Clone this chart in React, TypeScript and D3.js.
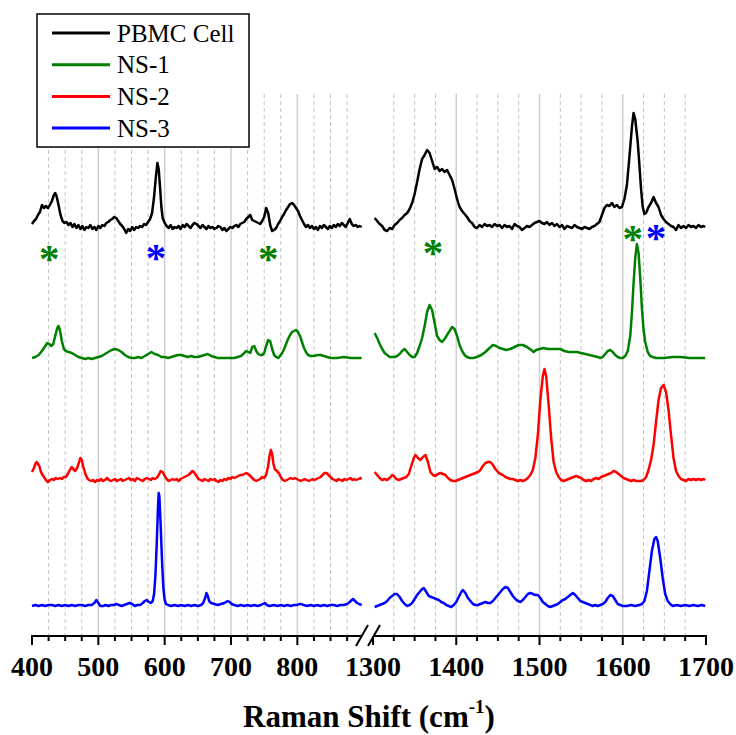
import { useEffect, useRef } from 'react';
import * as d3 from 'd3';

const WIDTH = 736;
const HEIGHT = 735;

// Series order: PBMC Cell, NS-1, NS-2, NS-3
const SERIES_NAMES = ['PBMC Cell', 'NS-1', 'NS-2', 'NS-3'];
const SERIES_COLORS = ['#000000', '#008000', '#ff0000', '#0000ff'];
const SERIES_OFFSETS = [409, 278, 156, 30];

// [Raman shift, intensity (a.u.)], low range 400-900
const pbmcLow: [number, number][] = [
  [400, 3], [403, 6], [406, 8], [409, 12], [412, 15], [415, 22], [418, 19], [421, 21], [424, 19], [427, 22],
  [430, 26], [433, 32], [435, 34], [437, 31], [440, 22], [443, 12], [446, 6], [449, 4], [452, 5], [455, 2],
  [458, 4], [461, 0], [464, 3], [467, -1], [470, 2], [473, -2], [476, 1], [479, -3], [482, 0], [485, -1],
  [488, 2], [491, -2], [494, 0], [497, -3], [500, 1], [503, -1], [506, 2], [509, 1], [512, 4], [515, 5],
  [518, 7], [521, 8], [524, 10], [527, 9], [530, 6], [533, 3], [536, 1], [539, -2], [542, -6], [545, -2],
  [548, -4], [551, 0], [554, -3], [557, 0], [560, -1], [563, 1], [566, 0], [569, 3], [572, 2], [575, 5],
  [578, 8], [581, 14], [584, 30], [587, 52], [589, 64], [591, 58], [593, 40], [595, 20], [597, 9], [600, 4],
  [603, 1], [606, -1], [609, 2], [612, -2], [615, 0], [618, -1], [621, 1], [624, -2], [627, 2], [630, 0],
  [633, 3], [636, 1], [639, -1], [642, 2], [645, 4], [648, 3], [651, 1], [654, -1], [657, 2], [660, 0],
  [663, -2], [666, 1], [669, -1], [672, 0], [675, -2], [678, -1], [681, 1], [684, 0], [687, -3], [690, -1],
  [693, -4], [696, -2], [699, 0], [702, -1], [705, 1], [708, 2], [711, 0], [714, 3], [717, 4], [720, 5],
  [723, 8], [726, 10], [729, 12], [732, 7], [735, 6], [738, 5], [741, 4], [744, 3], [747, 6], [750, 10],
  [753, 19], [756, 14], [759, 2], [762, -4], [765, -3], [768, -1], [771, 3], [774, 6], [777, 10], [780, 13],
  [783, 17], [786, 20], [789, 23], [792, 24], [795, 22], [798, 19], [801, 16], [804, 11], [807, 7], [810, 3],
  [813, 0], [816, 2], [819, -1], [822, 1], [825, -2], [828, 0], [831, -3], [834, 1], [837, -1], [840, 2],
  [843, 0], [846, -2], [849, 1], [852, -1], [855, 2], [858, 0], [861, 3], [864, 1], [867, 4], [870, 2],
  [873, 0], [876, 4], [879, 8], [882, 3], [885, 1], [888, 2], [891, 0], [894, 1], [897, 0],
];

const ns1Low: [number, number][] = [
  [400, 0], [405, 1], [410, 3], [415, 7], [420, 12], [423, 15], [426, 14], [429, 12], [432, 14], [435, 22],
  [438, 30], [440, 32], [442, 28], [445, 17], [448, 9], [451, 7], [455, 6], [460, 5], [465, 3], [470, 1],
  [475, 0], [480, -1], [485, 0], [490, -1], [495, 0], [500, 1], [505, 2], [510, 4], [515, 6], [520, 8],
  [525, 9], [530, 8], [535, 6], [540, 3], [545, 1], [550, 0], [555, 0], [560, 1], [565, 0], [570, 2],
  [575, 4], [580, 6], [585, 4], [590, 3], [595, 1], [600, 1], [605, 0], [610, 1], [615, 2], [620, 3],
  [625, 3], [630, 2], [635, 1], [640, 2], [645, 1], [650, 1], [655, 2], [660, 3], [665, 4], [670, 2],
  [675, 1], [680, 0], [690, 0], [700, 0], [705, 0], [710, 1], [715, 2], [720, 5], [723, 7], [726, 6],
  [729, 5], [732, 11], [735, 12], [738, 7], [741, 4], [744, 3], [747, 3], [750, 5], [753, 12], [756, 18],
  [759, 17], [762, 9], [765, 3], [768, 1], [771, 0], [774, 2], [777, 5], [780, 9], [783, 14], [786, 19],
  [789, 23], [792, 26], [795, 27], [798, 28], [801, 26], [804, 22], [807, 16], [810, 10], [813, 6], [816, 3],
  [820, 2], [825, 2], [830, 3], [835, 3], [840, 2], [845, 1], [850, 0], [860, 0], [870, 1], [880, 0],
  [890, 0], [897, 0],
];

const ns2Low: [number, number][] = [
  [400, 8], [403, 12], [405, 16], [407, 18], [409, 16], [411, 14], [413, 9], [415, 6], [418, 3], [421, 0],
  [424, -2], [427, 0], [430, 1], [433, 0], [436, 2], [439, 1], [442, 2], [445, 1], [448, 3], [451, 3],
  [454, 6], [457, 10], [460, 13], [462, 11], [465, 9], [468, 12], [471, 18], [473, 22], [475, 20], [477, 14],
  [480, 7], [483, 2], [486, 0], [489, -1], [492, 0], [495, -2], [498, 0], [501, -1], [504, 1], [507, -1],
  [510, 0], [513, 2], [516, 0], [519, -1], [522, 0], [525, 1], [528, -1], [531, 0], [534, 1], [537, -1],
  [540, 0], [543, 1], [546, 2], [549, 0], [552, 1], [555, -1], [558, 2], [561, 1], [564, 0], [567, -1],
  [570, 1], [573, 2], [576, 1], [579, 0], [582, 2], [585, 1], [588, 2], [591, 5], [594, 9], [597, 8],
  [600, 4], [603, 1], [606, -1], [609, 0], [612, 1], [615, 0], [618, 1], [621, -1], [624, 1], [627, 2],
  [630, 3], [633, 4], [636, 5], [639, 7], [642, 9], [645, 7], [648, 4], [651, 1], [654, 0], [657, -1],
  [660, 1], [663, 0], [666, -1], [669, 1], [672, 0], [675, 1], [678, -1], [681, -2], [684, 0], [687, -1],
  [690, 1], [693, 0], [696, 2], [699, 1], [702, 3], [705, 2], [708, 3], [711, 4], [714, 5], [717, 5],
  [720, 6], [723, 7], [726, 6], [729, 4], [732, 2], [735, 0], [738, -1], [741, 0], [744, 1], [747, 3],
  [750, 2], [753, 5], [756, 14], [758, 24], [760, 30], [762, 26], [764, 16], [766, 11], [769, 9], [772, 7],
  [775, 3], [778, 0], [781, -1], [784, 0], [787, 1], [790, 2], [793, 1], [796, 2], [799, 1], [802, 0],
  [805, -1], [808, 0], [811, 1], [814, 0], [817, -1], [820, 0], [823, 1], [826, 0], [829, 1], [832, 2],
  [835, 3], [838, 5], [841, 7], [844, 7], [847, 5], [850, 3], [853, 1], [856, 0], [859, -1], [862, 1],
  [865, 0], [868, -1], [871, 1], [874, 0], [877, 1], [880, 2], [883, 0], [886, 1], [889, 0], [892, 1],
  [895, 2], [897, 1],
];

const ns3Low: [number, number][] = [
  [400, 0], [405, 1], [410, 0], [415, 1], [420, 0], [425, 1], [430, 1], [435, 0], [440, 1], [445, 0],
  [450, 1], [455, 0], [460, 1], [465, 0], [470, 1], [475, 1], [480, 0], [485, 1], [490, 1], [494, 3],
  [497, 6], [500, 3], [503, 0], [507, 0], [511, 1], [515, 0], [519, 1], [523, 1], [527, 2], [531, 1],
  [535, 0], [539, 1], [543, 2], [547, 3], [551, 2], [555, 0], [559, 1], [563, 1], [567, 3], [570, 5],
  [573, 6], [576, 4], [579, 3], [582, 5], [584, 12], [586, 30], [588, 62], [590, 100], [591, 113], [592, 110],
  [594, 80], [596, 45], [598, 18], [600, 6], [602, 2], [605, 1], [610, 0], [615, 1], [620, 0], [625, 1],
  [630, 0], [635, 1], [640, 0], [645, 1], [650, 0], [655, 1], [658, 3], [661, 8], [663, 13], [665, 10],
  [667, 5], [670, 3], [675, 2], [680, 1], [685, 2], [690, 3], [695, 5], [698, 4], [701, 2], [705, 1],
  [710, 0], [715, 1], [720, 0], [725, 1], [730, 0], [735, 1], [740, 0], [745, 1], [748, 2], [751, 3],
  [754, 1], [758, 0], [765, 1], [770, 0], [775, 1], [780, 0], [785, 1], [790, 0], [795, 1], [800, 1],
  [803, 2], [806, 2], [809, 1], [815, 0], [820, 1], [825, 0], [830, 1], [835, 0], [840, 1], [845, 0],
  [850, 1], [855, 1], [860, 0], [865, 1], [870, 1], [875, 2], [879, 4], [882, 6], [884, 7], [887, 5],
  [890, 3], [893, 2], [897, 1],
];

// high range 1300-1700
const pbmcHigh: [number, number][] = [
  [1302, 9], [1305, 6], [1308, 3], [1311, 1], [1314, -3], [1317, -4], [1320, -1], [1323, -2], [1326, 2], [1329, 4],
  [1332, 7], [1335, 9], [1338, 12], [1341, 14], [1344, 18], [1347, 24], [1350, 33], [1353, 45], [1356, 58], [1359, 68],
  [1362, 72], [1365, 77], [1368, 74], [1371, 66], [1374, 58], [1377, 60], [1380, 56], [1383, 58], [1386, 55], [1389, 57],
  [1392, 52], [1395, 47], [1398, 38], [1401, 28], [1404, 20], [1407, 16], [1410, 13], [1413, 10], [1416, 6], [1419, 4],
  [1422, 0], [1425, -1], [1428, 2], [1431, 0], [1434, 3], [1437, 1], [1440, 2], [1443, 0], [1446, 3], [1449, 1],
  [1452, 2], [1455, -1], [1458, 2], [1461, 0], [1464, 1], [1467, -2], [1470, 3], [1473, 1], [1476, 0], [1479, -3],
  [1482, -1], [1485, 1], [1488, 0], [1491, 2], [1494, 4], [1497, 5], [1500, 6], [1503, 4], [1506, 3], [1509, 5],
  [1512, 2], [1515, 4], [1518, 1], [1521, 3], [1524, 0], [1527, 2], [1530, -2], [1533, 1], [1536, 0], [1539, -1],
  [1542, 2], [1545, 0], [1548, -1], [1551, -2], [1554, 0], [1557, -1], [1560, -2], [1563, 0], [1566, 1], [1569, 3],
  [1572, 5], [1575, 12], [1578, 19], [1581, 22], [1584, 21], [1587, 24], [1590, 20], [1593, 22], [1596, 19], [1599, 20],
  [1602, 28], [1605, 42], [1608, 70], [1611, 100], [1613, 114], [1615, 108], [1618, 85], [1620, 62], [1622, 38], [1624, 20],
  [1626, 13], [1628, 14], [1631, 20], [1634, 24], [1637, 30], [1640, 24], [1643, 20], [1646, 12], [1649, 8], [1652, 5],
  [1655, 3], [1658, 1], [1661, 0], [1664, -3], [1667, 2], [1670, -1], [1673, 1], [1676, -1], [1679, 2], [1682, 0],
  [1685, 1], [1688, -1], [1691, 2], [1694, 0], [1697, 1], [1699, 0],
];

const ns1High: [number, number][] = [
  [1302, 25], [1305, 20], [1308, 14], [1311, 9], [1314, 5], [1317, 3], [1320, 1], [1323, 1], [1326, 1], [1329, 2],
  [1332, 4], [1335, 7], [1338, 9], [1341, 6], [1344, 3], [1347, 1], [1350, 1], [1353, 5], [1356, 12], [1359, 20],
  [1362, 32], [1365, 46], [1368, 53], [1371, 48], [1374, 35], [1377, 22], [1380, 18], [1383, 16], [1386, 19], [1389, 23],
  [1392, 27], [1395, 31], [1398, 29], [1401, 22], [1404, 13], [1407, 7], [1410, 3], [1413, 1], [1416, 0], [1420, 0],
  [1425, 1], [1430, 3], [1435, 6], [1440, 10], [1444, 13], [1448, 12], [1452, 10], [1456, 9], [1460, 8], [1465, 9],
  [1470, 11], [1475, 13], [1480, 13], [1485, 11], [1490, 8], [1493, 6], [1496, 8], [1500, 9], [1505, 10], [1510, 9],
  [1515, 9], [1520, 9], [1525, 9], [1530, 7], [1535, 6], [1540, 6], [1545, 6], [1550, 5], [1555, 4], [1560, 3],
  [1565, 2], [1570, 1], [1573, 0], [1576, 1], [1579, 4], [1582, 7], [1585, 8], [1588, 6], [1591, 3], [1594, 1],
  [1597, 0], [1600, 0], [1603, 2], [1606, 7], [1609, 22], [1611, 45], [1613, 75], [1615, 100], [1617, 114], [1619, 105],
  [1621, 80], [1623, 50], [1625, 28], [1627, 16], [1630, 6], [1633, 2], [1636, 1], [1640, 0], [1650, 0], [1660, 1],
  [1670, 1], [1680, 0], [1690, 0], [1699, 0],
];

const ns2High: [number, number][] = [
  [1302, 8], [1305, 5], [1308, 2], [1311, 0], [1314, 1], [1317, 0], [1320, 2], [1323, 5], [1325, 4], [1328, 1],
  [1331, 0], [1334, 1], [1337, 2], [1340, 3], [1343, 6], [1346, 14], [1349, 22], [1351, 25], [1354, 22], [1357, 20],
  [1360, 23], [1363, 25], [1366, 18], [1369, 8], [1372, 5], [1375, 4], [1378, 6], [1381, 7], [1384, 6], [1387, 5],
  [1390, 2], [1393, 0], [1396, -1], [1399, -1], [1402, 0], [1405, 1], [1408, 2], [1411, 3], [1414, 4], [1417, 5],
  [1420, 6], [1423, 7], [1426, 8], [1429, 10], [1432, 14], [1435, 17], [1438, 18], [1441, 18], [1444, 15], [1447, 11],
  [1450, 8], [1453, 6], [1456, 5], [1459, 3], [1462, 2], [1465, 1], [1468, 1], [1471, 0], [1474, -1], [1477, 0],
  [1480, -1], [1483, 0], [1486, 2], [1489, 5], [1492, 10], [1495, 22], [1498, 45], [1501, 80], [1504, 104], [1506, 111],
  [1508, 104], [1511, 75], [1514, 42], [1517, 18], [1520, 8], [1523, 3], [1526, 0], [1529, -1], [1532, 0], [1535, 1],
  [1538, 2], [1541, 3], [1544, 4], [1547, 3], [1550, 2], [1553, 0], [1556, -1], [1559, 0], [1562, -1], [1565, 1],
  [1568, 2], [1571, 1], [1574, 3], [1577, 4], [1580, 5], [1583, 6], [1586, 7], [1589, 9], [1592, 8], [1595, 6],
  [1598, 4], [1601, 2], [1604, 1], [1607, 0], [1610, -1], [1613, 0], [1616, -1], [1619, -1], [1622, -1], [1625, 0],
  [1628, 3], [1631, 10], [1634, 20], [1637, 35], [1640, 58], [1643, 80], [1646, 92], [1649, 95], [1652, 88], [1655, 70],
  [1658, 45], [1661, 22], [1664, 9], [1667, 4], [1670, 1], [1673, 0], [1676, -1], [1679, 1], [1682, 0], [1685, 1],
  [1688, 0], [1691, 1], [1694, 0], [1697, 1], [1699, 0],
];

const ns3High: [number, number][] = [
  [1302, -1], [1305, 0], [1308, 1], [1311, 2], [1314, 3], [1317, 5], [1320, 8], [1323, 10], [1326, 12], [1329, 12],
  [1332, 9], [1335, 5], [1338, 2], [1341, 0], [1344, 1], [1347, 3], [1350, 7], [1353, 11], [1356, 14], [1359, 17],
  [1361, 18], [1364, 14], [1367, 10], [1370, 9], [1373, 8], [1376, 7], [1379, 6], [1382, 4], [1385, 3], [1388, 1],
  [1391, 0], [1394, -1], [1397, 1], [1400, 4], [1403, 9], [1406, 14], [1408, 16], [1411, 13], [1414, 8], [1417, 5],
  [1420, 2], [1423, 1], [1426, 1], [1429, 2], [1432, 3], [1435, 4], [1438, 3], [1441, 3], [1444, 5], [1447, 8],
  [1450, 11], [1453, 14], [1456, 17], [1459, 19], [1462, 18], [1465, 14], [1468, 10], [1471, 7], [1474, 5], [1477, 4],
  [1480, 6], [1483, 9], [1486, 12], [1489, 13], [1492, 12], [1495, 11], [1498, 11], [1501, 8], [1504, 4], [1507, 2],
  [1510, 0], [1513, -1], [1516, 0], [1519, 1], [1522, 2], [1525, 4], [1528, 6], [1531, 7], [1534, 9], [1537, 11],
  [1540, 13], [1543, 11], [1546, 8], [1549, 5], [1552, 4], [1555, 3], [1558, 2], [1561, 1], [1564, 0], [1567, 1],
  [1570, 0], [1573, 1], [1576, 2], [1579, 4], [1582, 8], [1585, 11], [1588, 10], [1591, 6], [1594, 2], [1597, 1],
  [1600, 0], [1605, 0], [1610, 1], [1615, 0], [1620, 1], [1623, 2], [1626, 5], [1629, 15], [1632, 35], [1635, 55],
  [1638, 67], [1640, 69], [1642, 65], [1645, 48], [1648, 28], [1651, 12], [1654, 5], [1657, 2], [1660, 0], [1665, 1],
  [1670, 0], [1675, 1], [1680, 0], [1685, 1], [1690, 0], [1695, 1], [1699, 0],
];

const LOW_SERIES = [pbmcLow, ns1Low, ns2Low, ns3Low];
const HIGH_SERIES = [pbmcHigh, ns1High, ns2High, ns3High];

const LOW_LABELS = [400, 500, 600, 700, 800];
const HIGH_LABELS = [1300, 1400, 1500, 1600, 1700];

// asterisk annotations: [Raman shift, level, series colour index]
const MARKERS: [number, number, number][] = [
  [426, 383, 1],
  [587, 384, 3],
  [756, 383, 1],
  [1372, 389, 1],
  [1612, 403, 1],
  [1640, 404, 3],
];

const FONT = 'Liberation Serif, Times New Roman, serif';

export default function App() {
  const svgRef = useRef<SVGSVGElement | null>(null);

  useEffect(() => {
    if (!svgRef.current) return;
    const svg = d3.select(svgRef.current);
    svg.selectAll('*').remove();

    const top = 94;
    const axisY = 636;

    const xLow = d3.scaleLinear().domain([400, 900]).range([32, 363.7]);
    const xHigh = d3.scaleLinear().domain([1300, 1700]).range([373, 706]);
    const y = d3.scaleLinear().domain([0, axisY - top]).range([axisY, top]);

    const segments = [
      { x: xLow, data: LOW_SERIES, minor: d3.range(425, 900, 25), labels: LOW_LABELS, ticks: d3.range(400, 876, 25) },
      { x: xHigh, data: HIGH_SERIES, minor: d3.range(1325, 1700, 25), labels: HIGH_LABELS, ticks: d3.range(1300, 1701, 25) },
    ];

    // Grid lines
    const grid = svg.append('g');
    segments.forEach((seg) => {
      seg.minor.forEach((v) => {
        const major = v % 100 === 0;
        grid.append('line')
          .attr('x1', seg.x(v))
          .attr('x2', seg.x(v))
          .attr('y1', top)
          .attr('y2', axisY)
          .attr('stroke', major ? '#cfcfcf' : '#c4c4c4')
          .attr('stroke-width', major ? 1.5 : 1)
          .attr('stroke-dasharray', major ? null : '4,3');
      });
    });

    // Spectra
    segments.forEach((seg) => {
      seg.data.forEach((series, i) => {
        const line = d3.line<[number, number]>()
          .x((d) => seg.x(d[0]))
          .y((d) => y(d[1] + SERIES_OFFSETS[i]));
        svg.append('path')
          .datum(series)
          .attr('d', line)
          .attr('fill', 'none')
          .attr('stroke', SERIES_COLORS[i])
          .attr('stroke-width', 2.5)
          .attr('stroke-linejoin', 'round');
      });
    });

    // Asterisks
    MARKERS.forEach(([v, level, ci]) => {
      const sx = v < 1000 ? xLow(v) : xHigh(v);
      svg.append('text')
        .attr('x', sx)
        .attr('y', y(level) + 19)
        .attr('text-anchor', 'middle')
        .attr('font-family', FONT)
        .attr('font-weight', 'bold')
        .attr('font-size', 41)
        .attr('fill', SERIES_COLORS[ci])
        .text('*');
    });

    // Legend
    const legend = svg.append('g');
    legend.append('rect')
      .attr('x', 37)
      .attr('y', 14)
      .attr('width', 212)
      .attr('height', 133)
      .attr('fill', '#fff')
      .attr('stroke', '#000')
      .attr('stroke-width', 1.5);
    SERIES_NAMES.forEach((name, i) => {
      const cy = 33 + i * 31.7;
      legend.append('line')
        .attr('x1', 52)
        .attr('x2', 110)
        .attr('y1', cy)
        .attr('y2', cy)
        .attr('stroke', SERIES_COLORS[i])
        .attr('stroke-width', 3);
      legend.append('text')
        .attr('x', 117)
        .attr('y', cy + 8.5)
        .attr('font-family', FONT)
        .attr('font-size', 25)
        .attr('fill', '#000')
        .text(name);
    });

    // X axis (broken)
    const axis = svg.append('g');
    axis.append('line')
      .attr('x1', 31).attr('x2', 362).attr('y1', axisY).attr('y2', axisY)
      .attr('stroke', '#000').attr('stroke-width', 2);
    axis.append('line')
      .attr('x1', 374).attr('x2', 707).attr('y1', axisY).attr('y2', axisY)
      .attr('stroke', '#000').attr('stroke-width', 2);

    segments.forEach((seg) => {
      seg.ticks.forEach((v) => {
        const major = v % 100 === 0;
        axis.append('line')
          .attr('x1', seg.x(v))
          .attr('x2', seg.x(v))
          .attr('y1', axisY)
          .attr('y2', axisY + (major ? 9 : 5))
          .attr('stroke', '#000')
          .attr('stroke-width', 2);
      });
      seg.labels.forEach((v) => {
        axis.append('text')
          .attr('x', seg.x(v))
          .attr('y', 676)
          .attr('text-anchor', 'middle')
          .attr('font-family', FONT)
          .attr('font-weight', 'bold')
          .attr('font-size', 28)
          .attr('fill', '#000')
          .text(v);
      });
    });

    // Break marks
    [362, 374].forEach((bx) => {
      axis.append('line')
        .attr('x1', bx - 6).attr('y1', 646)
        .attr('x2', bx + 6).attr('y2', 625)
        .attr('stroke', '#000').attr('stroke-width', 2);
    });

    // Axis title
    const title = axis.append('text')
      .attr('x', 369)
      .attr('y', 727)
      .attr('text-anchor', 'middle')
      .attr('font-family', FONT)
      .attr('font-weight', 'bold')
      .attr('font-size', 31)
      .attr('fill', '#000');
    title.append('tspan').text('Raman Shift (cm');
    title.append('tspan').attr('font-size', 19).attr('dy', -14).text('-1');
    title.append('tspan').attr('dy', 14).text(')');
  }, []);

  return (
    <svg
      ref={svgRef}
      width={WIDTH}
      height={HEIGHT}
      style={{ position: 'absolute', left: 0, top: 0, display: 'block', background: '#fff' }}
    />
  );
}
